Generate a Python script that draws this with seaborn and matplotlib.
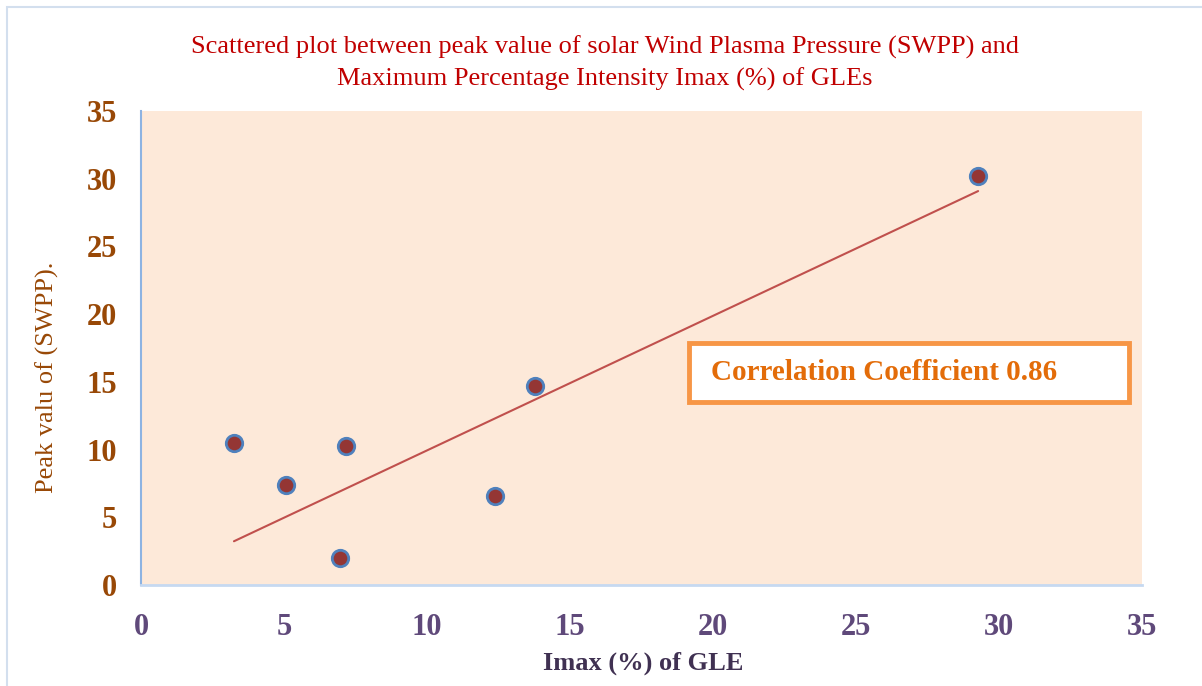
import numpy as np
import pandas as pd
import matplotlib
matplotlib.use('Agg')
import matplotlib.pyplot as plt
import matplotlib.patches as mpatches
import seaborn as sns

# data
imax_gle = [3.25, 5.07, 7.17, 6.96, 12.38, 13.78, 29.27]
swpp_peak = [10.5, 7.4, 10.3, 2.0, 6.6, 14.7, 30.2]
x_ticks = [0, 5, 10, 15, 20, 25, 30, 35]
y_ticks = [0, 5, 10, 15, 20, 25, 30, 35]
title_lines = ['Scattered plot between peak value of solar Wind Plasma Pressure (SWPP) and',
               'Maximum Percentage Intensity Imax (%) of GLEs']
corr_label = 'Correlation Coefficient 0.86'

df = pd.DataFrame({'imax': imax_gle, 'swpp': swpp_peak})

# linear trendline forced through the origin (Excel style)
xv = np.array(imax_gle)
yv = np.array(swpp_peak)
slope = (xv * yv).sum() / (xv * xv).sum()
trend = pd.DataFrame({'imax': [xv.min(), xv.max()]})
trend['swpp'] = slope * trend['imax']

sns.set_style('white')
plt.rcParams['font.family'] = ['Liberation Serif', 'DejaVu Serif']

fig = plt.figure(figsize=(12.02, 6.86), dpi=100)
ax = fig.add_axes([141/1202, 1 - 585/686, 1001/1202, 474/686])
ax.set_facecolor('#FDE9D9')

sns.lineplot(data=trend, x='imax', y='swpp', ax=ax, color='#C0504D', lw=1.5)
sns.scatterplot(data=df, x='imax', y='swpp', ax=ax, s=140, color='#943634',
                edgecolor='#4F81BD', linewidth=2, zorder=4)

ax.set_xlim(0, 35)
ax.set_ylim(0, 35)
ax.set_xticks(x_ticks)
ax.set_yticks(y_ticks)
ax.set_xticklabels([str(t) for t in x_ticks], fontsize=22, fontweight='bold', color='#5F497A')
ax.set_yticklabels([str(t) for t in y_ticks], fontsize=22, fontweight='bold', color='#984806')
ax.tick_params(axis='x', length=0, pad=20)
ax.tick_params(axis='y', length=0, pad=17)

for side in ('top', 'right'):
    ax.spines[side].set_visible(False)
ax.spines['left'].set_color('#8DB3E2')
ax.spines['left'].set_linewidth(1.5)
ax.spines['bottom'].set_color('#C6D9F1')
ax.spines['bottom'].set_linewidth(2)

ax.set_xlabel('Imax (%) of GLE', fontsize=19, fontweight='bold', color='#403152')
ax.xaxis.set_label_coords(0.5015, -(663 - 585) / 474)
ax.set_ylabel('Peak valu of (SWPP).', fontsize=19, color='#984806')
ax.yaxis.set_label_coords((47 - 141) / 1001, (585 - 377) / 474)
ax.xaxis.label.set_va('center')
ax.yaxis.label.set_va('center')

# correlation box
ax.add_patch(mpatches.Rectangle((0.5475, 0.386), 0.4395, 0.1245, transform=ax.transAxes,
                                facecolor='white', edgecolor='#F79646', lw=3.5, zorder=5))
ax.text(0.5694, 0.449, corr_label, transform=ax.transAxes, ha='left', va='center',
        fontsize=21, fontweight='bold', color='#E36C09', zorder=6)

# title
fig.text(605/1202, 1 - 47/686, title_lines[0], ha='center', va='center',
         fontsize=19, color='#C00000')
fig.text(605/1202, 1 - 79/686, title_lines[1], ha='center', va='center',
         fontsize=19, color='#C00000')

# outer frame
fig.patches.append(mpatches.Rectangle((7/1202, -0.1), 1.2, (686 - 7)/686 + 0.1,
                                      transform=fig.transFigure, fill=False,
                                      edgecolor='#D3DFEE', lw=1.5, clip_on=False))

fig.savefig('out.png', dpi=100)
